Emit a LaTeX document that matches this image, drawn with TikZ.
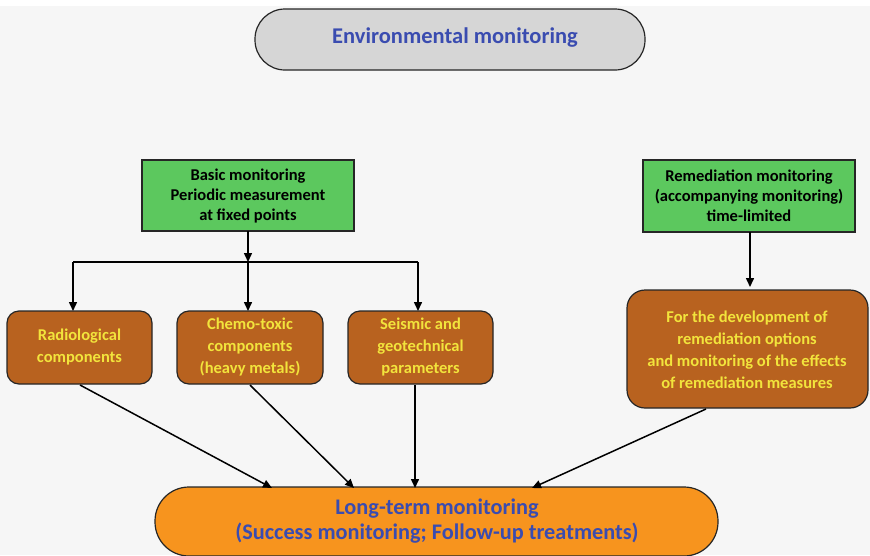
\documentclass[tikz,border=0pt]{standalone}
\usepackage{fontspec}
\setmainfont{Carlito}
\usetikzlibrary{arrows.meta}
\definecolor{bgc}{HTML}{F6F6F6}
\definecolor{topgray}{HTML}{D6D6D6}
\definecolor{titleblue}{HTML}{3A4CB0}
\definecolor{boxgreen}{HTML}{5CC85E}
\definecolor{boxbrown}{HTML}{B8621F}
\definecolor{txtyellow}{HTML}{F2E43C}
\definecolor{boxorange}{HTML}{F7941E}
\tikzset{
  every node/.style={font=\bfseries, align=center, inner sep=0pt},
  greenbox/.style={draw=black!85, line width=1.2pt, fill=boxgreen, font=\bfseries\fontsize{16.5}{20}\selectfont},
  brownbox/.style={draw=black!85, line width=1.2pt, fill=boxbrown, rounded corners=12pt, text=txtyellow, font=\bfseries\fontsize{16.5}{22}\selectfont},
  pill/.style={draw=black!85, line width=1.2pt, rounded corners=30pt},
  arr/.style={line width=1.5pt, -{Triangle[length=9pt,width=8pt]}},
  ln/.style={line width=1.5pt}
}
\begin{document}
\begin{tikzpicture}[x=1pt,y=-1pt]
\useasboundingbox (0,0) rectangle (870,555);
\fill[bgc] (0,0) rectangle (870,555);
\fill[white] (0,0) rectangle (870,6);

% title
\draw[pill, fill=topgray] (255,9) rectangle (645,70);
\node[text=titleblue, font=\bfseries\fontsize{22.5}{26}\selectfont] (env) at (455,38) {Environmental monitoring};

% green boxes
\draw[greenbox] (142,160) rectangle (354,231);
\node[greenbox, draw=none, fill=none] (basic) at (248,196) {Basic monitoring\\Periodic measurement\\at fixed points};
\coordinate (basicS) at (248,231);
\draw[greenbox] (643,160) rectangle (855,232);
\node[greenbox, draw=none, fill=none] (remed) at (749,196) {Remediation monitoring\\(accompanying monitoring)\\time-limited};
\coordinate (remedS) at (750,232);

% brown boxes
\draw[brownbox] (7,311) rectangle (152,384);
\node[brownbox, draw=none, fill=none] (radio) at (79.5,347) {Radiological\\components};
\draw[brownbox] (177,311) rectangle (323,384);
\node[brownbox, draw=none, fill=none] (chemo) at (250,347) {Chemo-toxic\\components\\(heavy metals)};
\draw[brownbox] (348,311) rectangle (493,384);
\node[brownbox, draw=none, fill=none] (seis) at (420.5,347) {Seismic and\\geotechnical\\parameters};
\draw[brownbox, rounded corners=18pt] (627,290) rectangle (868,408);
\node[brownbox, draw=none, fill=none] (dev) at (747,350) {For the development of\\remediation options\\and monitoring of the effects\\of remediation measures};

% long-term monitoring
\draw[pill, rounded corners=34pt, fill=boxorange] (155,487) rectangle (718,556);
\node[text=titleblue, font=\bfseries\fontsize{22.3}{25}\selectfont] (long) at (437,521) {Long-term monitoring\\(Success monitoring; Follow-up treatments)};

% branching from basic monitoring
\coordinate (bar) at (248,262);
\coordinate (barL) at (73,262);
\coordinate (barR) at (418,262);
\draw[arr] (basicS) -- (bar);
\draw[ln] (barL) -- (barR);
\coordinate (radioN) at (73,311);
\coordinate (chemoN) at (248,311);
\coordinate (seisN) at (418,311);
\draw[arr] (barL) -- (radioN);
\draw[arr] (bar) -- (chemoN);
\draw[arr] (barR) -- (seisN);

\coordinate (devN) at (750,287);
\draw[arr] (remedS) -- (devN);

% arrows into long-term monitoring
\draw[arr] (80,385) -- (272,488);
\draw[arr] (250,385) -- (354,488);
\draw[arr] (415,385) -- (415,488);
\draw[arr] (706,409) -- (532,488);
\end{tikzpicture}
\end{document}
